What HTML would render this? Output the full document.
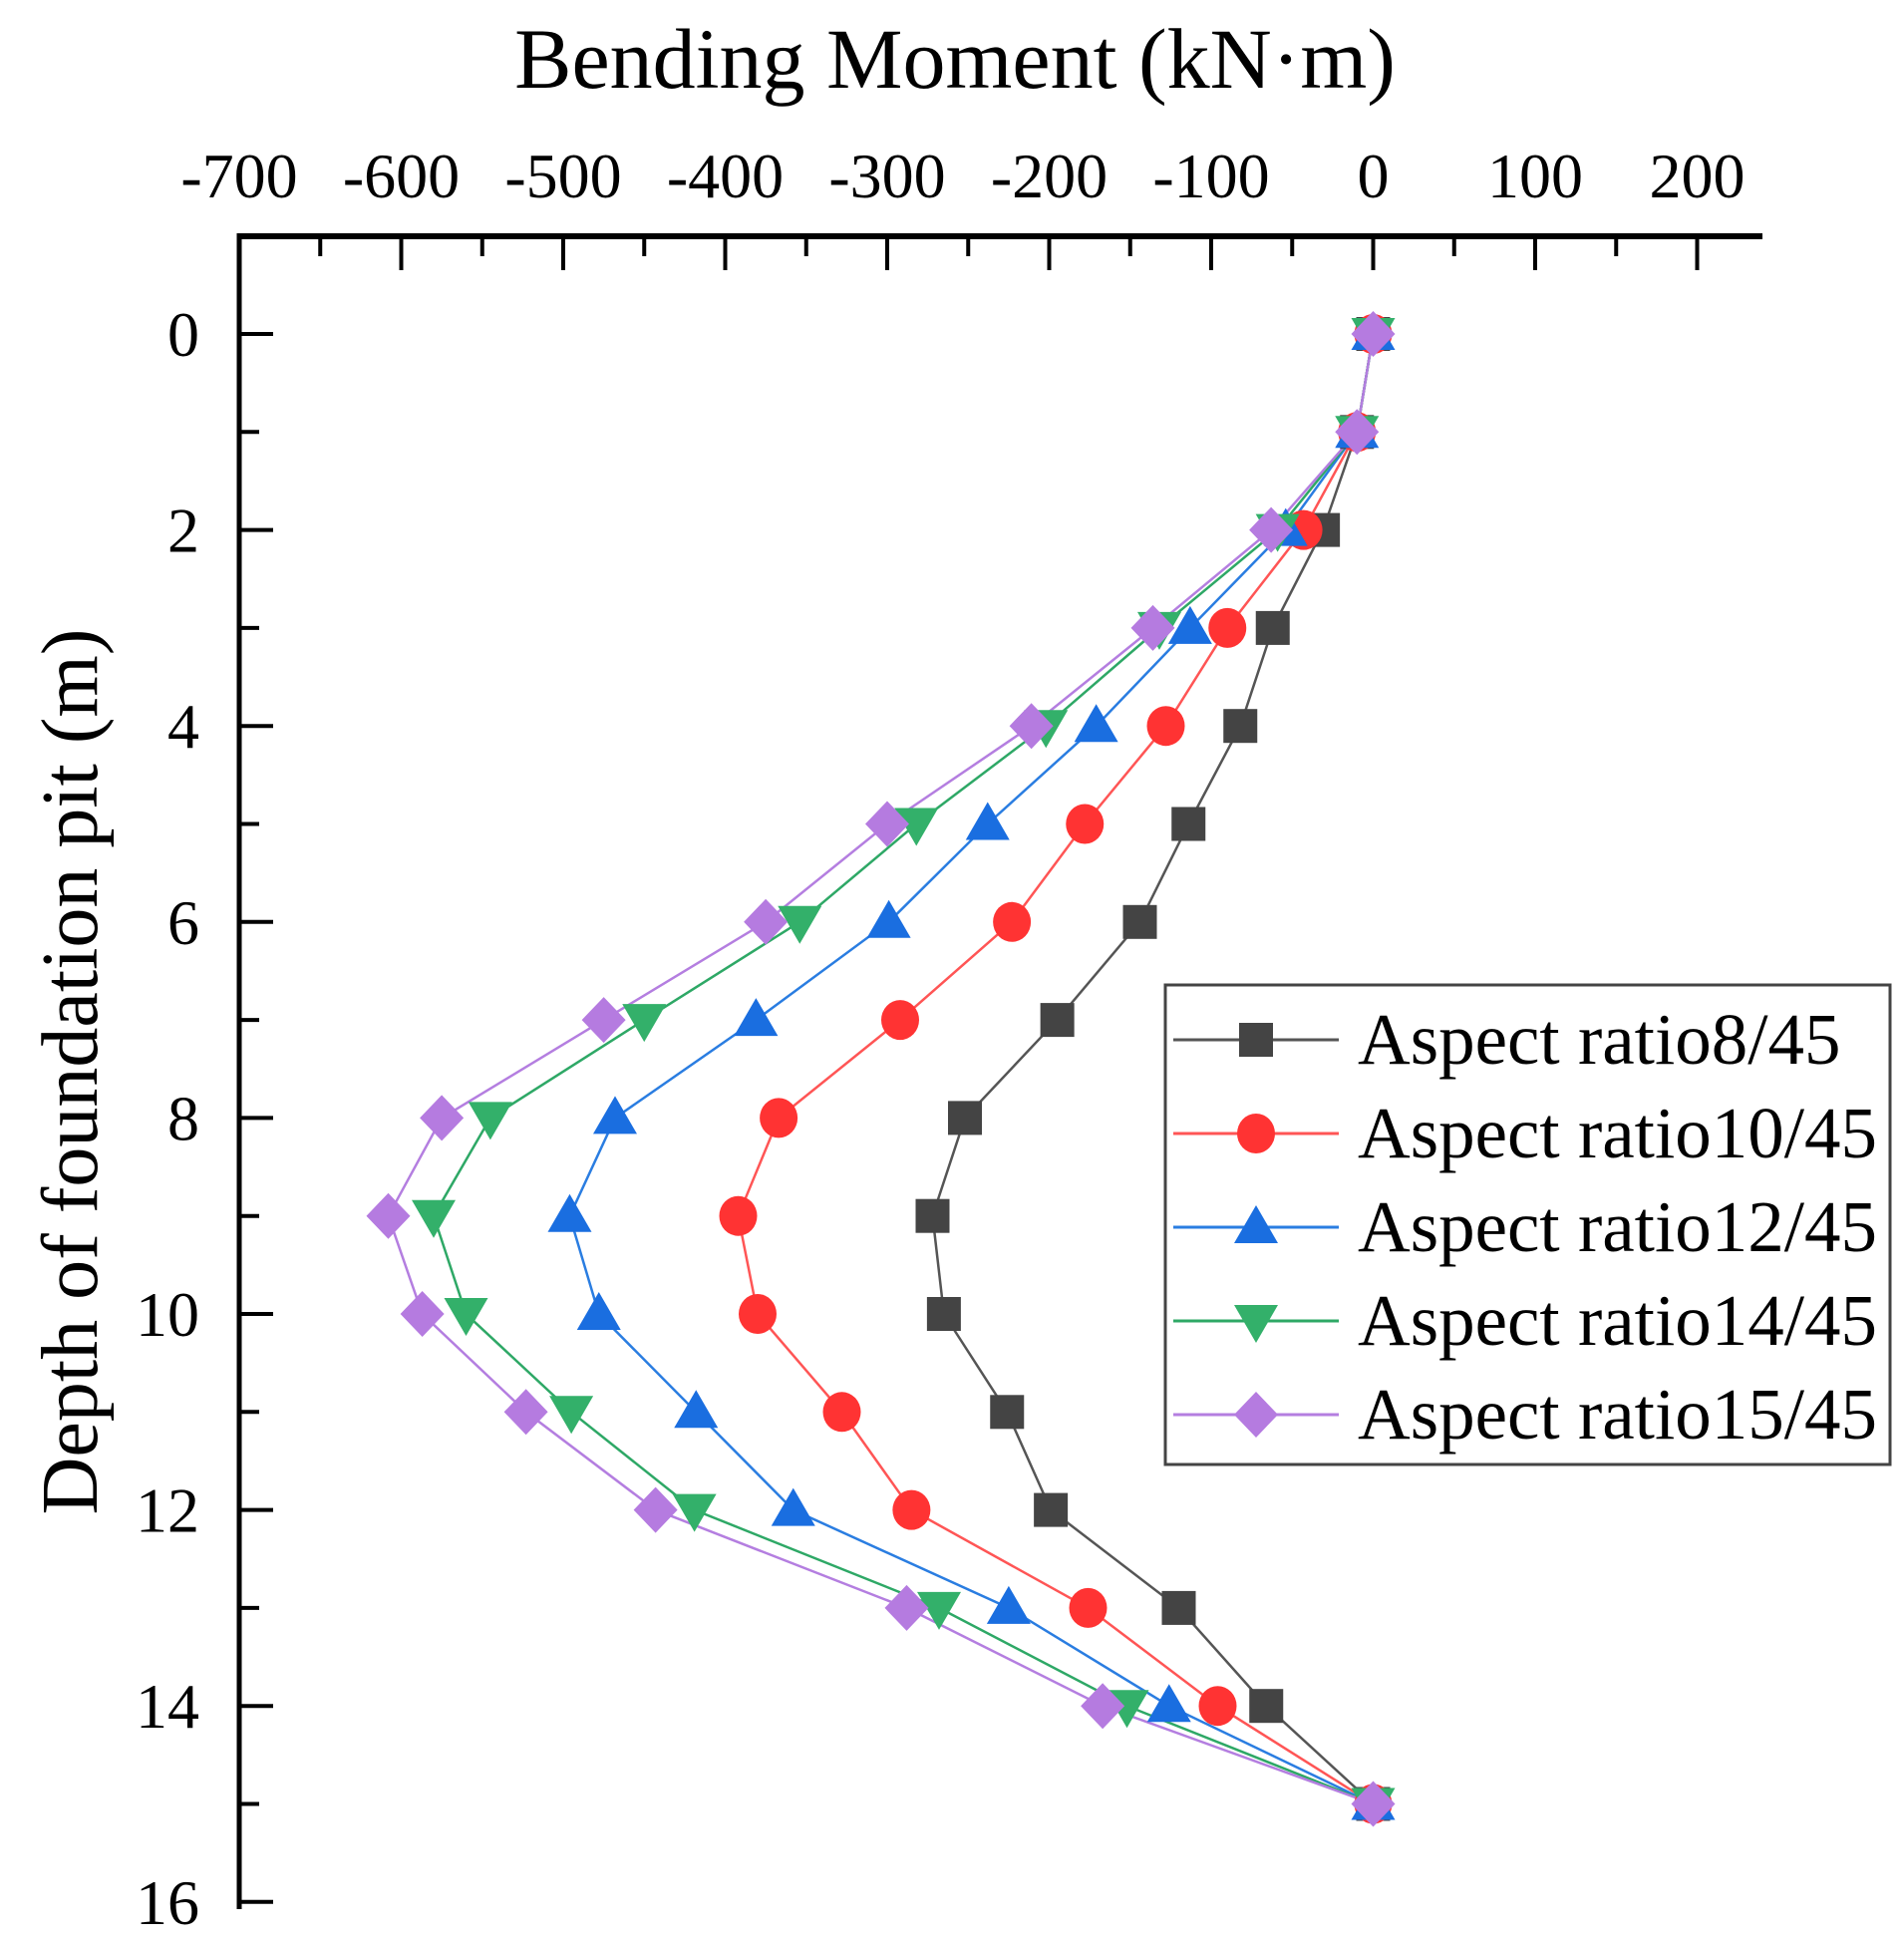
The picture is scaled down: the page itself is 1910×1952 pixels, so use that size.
<!DOCTYPE html>
<html><head><meta charset="utf-8"><style>
html,body{margin:0;padding:0;background:#fff;}
svg{display:block;font-family:"Liberation Serif",serif;}
</style></head><body>
<svg id="s" width="1910" height="1952" xmlns="http://www.w3.org/2000/svg">
<text x="958" y="88" font-size="86" text-anchor="middle">Bending Moment (kN·m)</text>
<text transform="translate(97,1075) rotate(-90)" font-size="80" text-anchor="middle">Depth of foundation pit (m)</text>
<g id="ax"></g>
<g id="data"></g>
<rect x="1169" y="988" width="727" height="481" fill="#fff" stroke="#444" stroke-width="3"/>
<g id="leg"></g>
</svg>
<script>
const ns="http://www.w3.org/2000/svg";
const X=v=>1377.5+v*1.625, Y=d=>335+d*98.3;
function el(p,t,a,txt){const e=document.createElementNS(ns,t);for(const k in a)e.setAttribute(k,a[k]);if(txt!=null)e.textContent=txt;document.getElementById(p).appendChild(e);return e;}
el('ax','line',{x1:240,y1:237,x2:1768,y2:237,stroke:'#000','stroke-width':6});
el('ax','line',{x1:240,y1:234,x2:240,y2:1915,stroke:'#000','stroke-width':5});
for(let v=-650;v<=200;v+=50){const maj=v%100==0;el('ax','line',{x1:X(v),y1:237,x2:X(v),y2:237+(maj?34:20),stroke:'#000','stroke-width':4});}
for(let v=-700;v<=200;v+=100)el('ax','text',{x:X(v),y:198,'font-size':64,'text-anchor':'middle'},(v<0?'-':'')+Math.abs(v));
for(let d=0;d<=16;d++){const maj=d%2==0;el('ax','line',{x1:240,y1:Y(d),x2:240+(maj?34:20),y2:Y(d),stroke:'#000','stroke-width':4});
 if(maj)el('ax','text',{x:200,y:Y(d)+22,'font-size':64,'text-anchor':'end'},d);}
const S=[
['#555','#444','sq',[0,-10,-31,-62,-82,-114,-144,-195,-252,-272,-265,-226,-199,-120,-66,0]],
['#f55','#f33','ci',[0,-10,-43,-90,-128,-178,-223,-292,-367,-392,-380,-328,-285,-176,-96,0]],
['#2a7de1','#1a6ee0','up',[0,-10,-54,-113,-171,-238,-299,-381,-468,-496,-478,-418,-358,-225,-126,0]],
['#2ea866','#33b06a','dn',[0,-10,-59,-132,-202,-282,-354,-450,-545,-580,-560,-495,-419,-268,-152,0]],
['#b47ee0','#b57be0','di',[0,-10,-63,-136,-211,-300,-375,-475,-575,-608,-587,-523,-443,-288,-167,0]]];
function mk(p,type,x,y,c){
 if(type=='sq')el(p,'rect',{x:x-17,y:y-17,width:34,height:34,fill:c});
 else if(type=='ci')el(p,'ellipse',{cx:x,cy:y,rx:19,ry:20,fill:c});
 else if(type=='up')el(p,'polygon',{points:`${x},${y-22} ${x-22},${y+16} ${x+22},${y+16}`,fill:c});
 else if(type=='dn')el(p,'polygon',{points:`${x},${y+22} ${x-22},${y-16} ${x+22},${y-16}`,fill:c});
 else el(p,'polygon',{points:`${x},${y-23} ${x+22},${y} ${x},${y+23} ${x-22},${y}`,fill:c});}
S.forEach(s=>{el('data','polyline',{points:s[3].map((v,i)=>X(v)+','+Y(i)).join(' '),fill:'none',stroke:s[0],'stroke-width':2.5});});
S.forEach(s=>{s[3].forEach((v,i)=>mk('data',s[2],X(v),Y(i),s[1]));});
const L=['Aspect ratio8/45','Aspect ratio10/45','Aspect ratio12/45','Aspect ratio14/45','Aspect ratio15/45'];
S.forEach((s,i)=>{const y=1043+i*94;el('leg','line',{x1:1177,y1:y,x2:1343,y2:y,stroke:s[0],'stroke-width':3});mk('leg',s[2],1260,y,s[1]);
 el('leg','text',{x:1362,y:y+24,'font-size':73},L[i]);});
</script>
</body></html>
